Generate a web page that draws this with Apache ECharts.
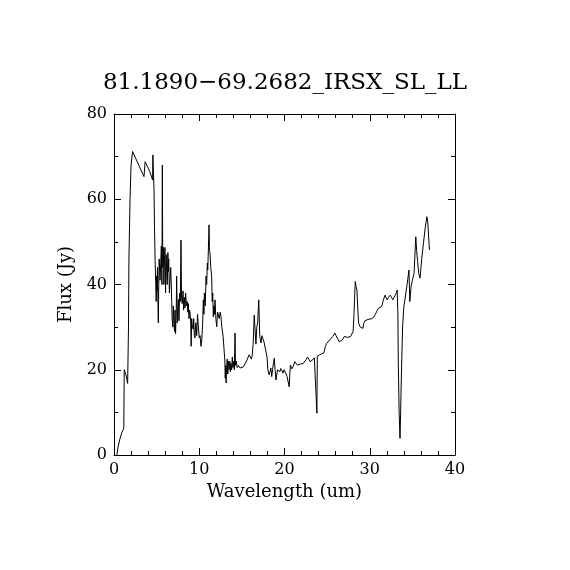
<!DOCTYPE html>
<html>
<head>
<meta charset="utf-8">
<script src="https://cdn.jsdelivr.net/npm/echarts@6/dist/echarts.min.js"></script>
<style>html,body{margin:0;padding:0;background:#fff}#c{width:570px;height:570px}</style>
</head>
<body>
<div id="c"></div>
<script>
var title = "81.1890\u221269.2682_IRSX_SL_LL";
var xName = "Wavelength (um)";
var yName = "Flux (Jy)";
var wavelength = [0.35,0.47,0.7,0.9,1.1,1.15,1.2,1.4,1.6,1.7,1.75,1.88,2.0,2.18,3.52,3.65,4.2,4.53,4.56,4.7,4.75,4.82,4.9,4.95,5.0,5.05,5.1,5.15,5.2,5.25,5.3,5.4,5.48,5.55,5.62,5.67,5.72,5.79,5.85,5.92,5.98,6.05,6.12,6.18,6.25,6.32,6.37,6.42,6.5,6.57,6.65,6.72,6.77,6.82,6.9,6.96,7.02,7.1,7.16,7.22,7.3,7.35,7.42,7.5,7.55,7.62,7.7,7.78,7.86,7.92,8.0,8.1,8.16,8.25,8.33,8.4,8.5,8.6,8.66,8.72,8.8,8.85,8.92,9.0,9.05,9.11,9.2,9.3,9.35,9.42,9.5,9.6,9.7,9.8,9.9,10.0,10.1,10.2,10.3,10.4,10.48,10.55,10.6,10.7,10.8,10.87,10.95,11.0,11.08,11.15,11.2,11.26,11.35,11.46,11.52,11.58,11.65,11.72,11.8,11.85,11.95,12.05,12.15,12.24,12.35,12.45,12.55,12.65,12.8,12.9,13.0,13.05,13.1,13.15,13.2,13.28,13.35,13.42,13.5,13.58,13.65,13.72,13.8,13.88,13.95,14.05,14.12,14.2,14.25,14.35,14.45,14.6,14.8,15.0,15.2,15.4,15.6,15.75,15.85,16.0,16.1,16.2,16.32,16.45,16.55,16.65,16.75,16.85,16.98,17.1,17.25,17.35,17.45,17.6,17.8,17.95,18.05,18.2,18.3,18.4,18.5,18.6,18.7,18.8,18.9,19.0,19.1,19.2,19.3,19.45,19.55,19.7,19.8,19.95,20.05,20.2,20.3,20.45,20.55,20.62,20.7,20.85,21.0,21.1,21.2,21.35,21.5,21.7,21.85,22.0,22.2,22.4,22.55,22.7,22.85,23.0,23.15,23.3,23.5,23.7,23.75,23.8,23.85,24.1,24.35,24.6,24.8,24.95,25.1,25.3,25.5,25.65,25.9,26.05,26.2,26.4,26.6,26.8,27.0,27.2,27.4,27.6,27.75,27.9,28.05,28.15,28.3,28.4,28.5,28.6,28.7,28.85,29.0,29.2,29.3,29.45,29.6,29.8,30.0,30.25,30.5,30.65,30.8,31.0,31.2,31.4,31.6,31.8,31.9,32.05,32.2,32.4,32.55,32.7,32.85,33.0,33.15,33.22,33.3,33.35,33.45,33.55,33.62,33.7,33.85,34.0,34.2,34.4,34.6,34.7,34.85,35.0,35.2,35.3,35.4,35.5,35.6,35.75,35.9,36.1,36.3,36.5,36.7,36.8,37.0];
var flux = [0,1.9,3.8,5.2,6.0,6.5,20.0,18.8,16.8,30,45.7,59.8,68,71.2,65.3,68.8,66.5,64.5,70.4,61.8,53.6,45.7,40,36,42,38.5,44,36,31,40,46,41,45,49,40,68,44,48.7,40,46,48.7,38,47,43,40,47.5,43,46,38,41,44,40,36,32,30,35,31.5,29,34,28.5,33.5,42,31,35,36.5,31.5,38,36,50.4,37,35.5,38.5,34,37,34.5,38,35,36,33.5,35.5,32,34,33.5,31,25.5,32,30,29.5,32,28,27.5,31,28,33,30,27.5,28,25.5,27,31,36.4,33,38,35,42,40,45,43.4,49,54,48,47.4,44,41.8,36,38,32.4,35,33,36.4,32,30.1,33.5,33.3,32,33.5,32.4,30,27.8,25,22.3,18,21,16.9,20,22.5,19,22,20,22,19.5,21.5,20,23,20.5,22,20,28.6,21,22,20.5,21,20.4,20,20.7,21.5,22.3,22,23.5,23,22.5,23.2,26,32.8,29.3,26,30,31,36.4,27.8,26.3,28,27.4,26.5,26.2,23,20,18.8,19.5,20.4,18.4,20,21.5,22.7,20,17.6,19,20,20,19.5,20.3,19.8,19.2,20,19.5,19,18.4,18,16,19,21.1,20.2,20.7,20.3,21.9,21.5,21.1,21.5,21.3,21.1,21.5,21.9,22.4,23,22.5,21.9,22,22.3,22.8,23,23,9.8,23.2,23.5,23.7,23.9,25.5,26.2,26.5,27,27.3,27.8,28.6,28,27.4,26.6,26.2,27,27.8,28.2,27.6,27.4,27.8,27.8,29,33,40.7,39.5,38.7,34,30.9,30.1,30.3,29.7,30.9,31.5,31.7,31.8,32.1,32,32.4,33,33.2,34.4,34,34.8,36.4,37.5,37,36.4,37,37.5,37,36.4,37,37.5,38.2,38.7,33.2,21.5,9.8,3.9,9.8,17.6,30.1,34.8,37.5,40.3,43.4,36,39.5,41,42.6,47,51.2,48,45.7,42.6,41.5,46.1,49.7,53.2,55.9,54.7,48.1];
var xTicks = [0,10,20,30,40];
var yTicks = [0,20,40,60,80];

var points = wavelength.map(function(w,i){return [w, flux[i]];});
var font = "DejaVu Serif";
var chart = echarts.init(document.getElementById('c'));
function xAx(pos, labels){
  return {type:'value', position:pos, min:xTicks[0], max:xTicks[xTicks.length-1], interval:xTicks[1]-xTicks[0],
    axisLine:{show:true, onZero:false, lineStyle:{color:'#000', width:1}},
    axisTick:{show:true, inside:true, length:7, lineStyle:{color:'#000'}},
    minorTick:{show:true, splitNumber:5, length:4, lineStyle:{color:'#000'}},
    splitLine:{show:false},
    axisLabel:{show:labels, color:'#000', fontFamily:font, fontSize:16, margin:7},
    name: labels? xName : '', nameLocation:'middle', nameGap:28,
    nameTextStyle:{color:'#000', fontFamily:font, fontSize:18}};
}
function yAx(pos, labels){
  return {type:'value', position:pos, min:yTicks[0], max:yTicks[yTicks.length-1], interval:yTicks[1]-yTicks[0],
    axisLine:{show:true, onZero:false, lineStyle:{color:'#000', width:1}},
    axisTick:{show:true, inside:true, length:7, lineStyle:{color:'#000'}},
    minorTick:{show:true, splitNumber:2, length:4, lineStyle:{color:'#000'}},
    splitLine:{show:false},
    axisLabel:{show:labels, color:'#000', fontFamily:font, fontSize:16, margin:7},
    name: labels? yName : '', nameLocation:'middle', nameGap:36,
    nameTextStyle:{color:'#000', fontFamily:font, fontSize:18}};
}
chart.setOption({
  animation:false,
  backgroundColor:'#fff',
  title:{text:title, left:'center', top:67, textStyle:{color:'#000', fontFamily:font, fontSize:23, fontWeight:'normal'}},
  grid:{left:114, right:115, top:114, bottom:115, containLabel:false},
  xAxis:[xAx('bottom', true), xAx('top', false)],
  yAxis:[yAx('left', true), yAx('right', false)],
  series:[{type:'line', data:points, xAxisIndex:0, yAxisIndex:0, showSymbol:false, symbol:'none',
    lineStyle:{color:'#000', width:1}, itemStyle:{color:'#000'}}]
});
</script>
</body>
</html>
